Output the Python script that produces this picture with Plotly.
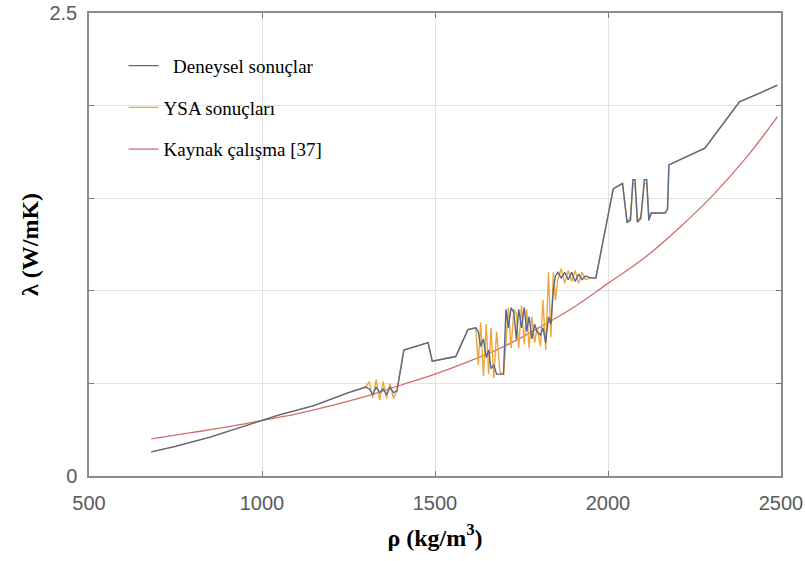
import plotly.graph_objects as go

# Density values (kg/m3) for the experimental / ANN series
rho = [680, 750, 850, 950, 1000, 1050, 1150, 1250, 1300,
       1310, 1320, 1330, 1340, 1350, 1360, 1370, 1380, 1390,
       1410, 1480, 1492, 1560, 1595, 1618,
       1625, 1632, 1640, 1648, 1655, 1662, 1670, 1678, 1688, 1698,
       1705, 1712, 1720, 1728, 1735, 1742, 1750, 1758, 1765, 1772, 1780, 1788, 1795,
       1805, 1812, 1820, 1828, 1835, 1842, 1848,
       1855, 1865, 1875, 1885, 1895, 1905, 1915, 1925, 1935, 1950, 1965,
       2015, 2042,
       2055, 2065, 2072, 2078, 2085, 2095, 2105, 2112, 2118, 2125, 2145, 2165, 2172, 2176,
       2280, 2380, 2490]

# Deneysel sonuçlar (experimental)
deneysel = [0.13, 0.16, 0.21, 0.27, 0.30, 0.33, 0.38, 0.45, 0.48,
            0.47, 0.44, 0.48, 0.45, 0.47, 0.44, 0.48, 0.45, 0.46,
            0.68, 0.72, 0.62, 0.645, 0.79, 0.80,
            0.78, 0.70, 0.74, 0.64, 0.68, 0.58, 0.60, 0.55, 0.55, 0.55,
            0.90, 0.80, 0.91, 0.88, 0.74, 0.90, 0.80, 0.91, 0.78, 0.86, 0.74, 0.82, 0.78,
            0.76, 0.80, 0.72, 0.86, 0.82, 1.00, 1.08,
            1.10, 1.07, 1.10, 1.06, 1.10, 1.05, 1.09, 1.06, 1.08, 1.07, 1.07,
            1.55, 1.58,
            1.37, 1.38, 1.60, 1.60, 1.37, 1.39, 1.60, 1.60, 1.38, 1.42, 1.42, 1.42, 1.44, 1.68,
            1.77, 2.02, 2.11]

# YSA sonuçları (ANN predictions)
ysa = [0.13, 0.16, 0.21, 0.27, 0.30, 0.33, 0.38, 0.45, 0.48,
       0.51, 0.42, 0.52, 0.41, 0.51, 0.42, 0.50, 0.42, 0.46,
       0.68, 0.72, 0.62, 0.645, 0.79, 0.80,
       0.60, 0.83, 0.54, 0.82, 0.55, 0.80, 0.53, 0.78, 0.56, 0.55,
       0.72, 0.91, 0.69, 0.90, 0.88, 0.69, 0.92, 0.71, 0.90, 0.69, 0.86, 0.72, 0.80,
       0.70, 0.95, 0.68, 1.10, 0.75, 1.10, 0.95,
       1.06, 1.12, 1.04, 1.11, 1.05, 1.11, 1.04, 1.10, 1.06, 1.07, 1.07,
       1.55, 1.58,
       1.37, 1.40, 1.58, 1.58, 1.38, 1.40, 1.58, 1.58, 1.40, 1.42, 1.42, 1.42, 1.44, 1.68,
       1.77, 2.02, 2.11]

# Kaynak çalışma [37] (reference study)
kaynak_rho = [680, 800, 900, 1000, 1100, 1200, 1300, 1400, 1500, 1600,
              1700, 1800, 1900, 2000, 2100, 2200, 2300, 2400, 2490]
kaynak = [0.20, 0.235, 0.265, 0.30, 0.335, 0.38, 0.43, 0.49, 0.55, 0.62,
          0.70, 0.80, 0.91, 1.04, 1.17, 1.33, 1.51, 1.72, 1.94]

x_ticks = [500, 1000, 1500, 2000, 2500]
y_ticks = [0, 2.5]
y_grid_step = 0.5

serif = "Liberation Serif, Times New Roman, serif"
sans = "Liberation Sans, Arial, sans-serif"

fig = go.Figure()
fig.add_trace(go.Scatter(x=kaynak_rho, y=kaynak, mode="lines", name="Kaynak çalışma [37]",
                         line=dict(color="#cf6e6b", width=1.3, shape="spline"),
                         legendgroup="c", legendrank=3))
fig.add_trace(go.Scatter(x=rho, y=ysa, mode="lines", name="YSA sonuçları",
                         line=dict(color="#efa63c", width=1.4),
                         legendgroup="b", legendrank=2))
fig.add_trace(go.Scatter(x=rho, y=deneysel, mode="lines", name="\u00a0\u00a0Deneysel sonuçlar",
                         line=dict(color="#55698a", width=1.4),
                         legendgroup="a", legendrank=1))

axis_common = dict(showgrid=True, gridcolor="#e2e2e2", gridwidth=1,
                   showline=True, linecolor="#8c8c8c", linewidth=1.5, mirror="ticks",
                   ticks="inside", ticklen=5, tickcolor="#777", zeroline=False,
                   automargin=False,
                   tickfont=dict(family=sans, size=20, color="#5a5a5a"))

fig.update_layout(
    width=805, height=561,
    margin=dict(l=89, r=24, t=13, b=85),
    paper_bgcolor="white", plot_bgcolor="white",
    showlegend=True,
    legend=dict(x=0.05, y=0.927, xanchor="left", yanchor="top",
                bgcolor="rgba(0,0,0,0)", font=dict(family=serif, size=19, color="black"),
                traceorder="grouped", tracegroupgap=14),
    xaxis=dict(range=[500, 2500], tickvals=x_ticks, ticklabelstandoff=8,
               title=dict(text="ρ (kg/m<sup>3</sup>)", standoff=16,
                          font=dict(family=serif, size=24, color="black", weight="bold")),
               **axis_common),
    yaxis=dict(range=[0, 2.5], tickvals=y_ticks, ticklabelstandoff=6,
               minor=dict(dtick=y_grid_step, tick0=0, showgrid=True, gridcolor="#e2e2e2",
                          ticks="inside", ticklen=5, tickcolor="#777"),
               title=dict(text="λ (W/mK)", standoff=4,
                          font=dict(family=serif, size=24, color="black", weight="bold")),
               **axis_common),
)

# remove the default page margin so the figure sits at the window's corner
fig.write_html("out.html", config={"displayModeBar": False},
               post_script="document.body.style.margin='0';")
